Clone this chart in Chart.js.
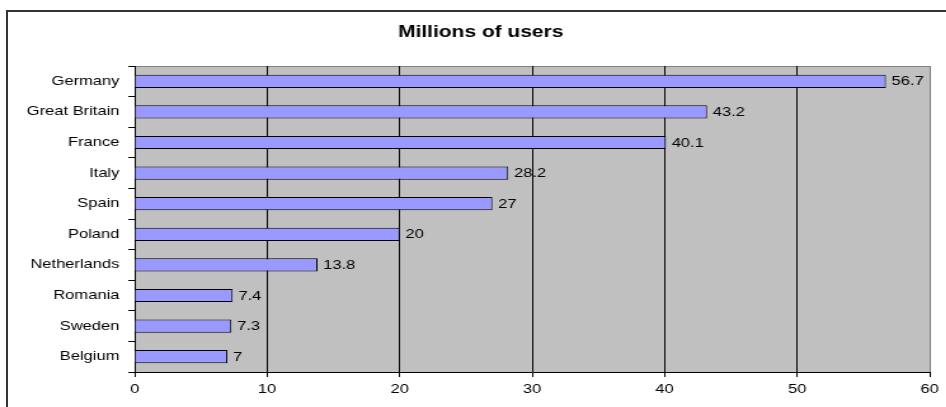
<!DOCTYPE html>
<html>
<head>
<meta charset="utf-8">
<script src="https://cdn.jsdelivr.net/npm/chart.js@4/dist/chart.umd.min.js"></script>
<style>
  html, body { margin: 0; padding: 0; background: #fff; overflow: hidden; }
  #frame {
    position: absolute; left: 6px; top: 10px; width: 980px; height: 440px;
    border-top: 2px solid #333; border-left: 2px solid #333;
  }
  #myChart {
    position: absolute; left: 0; top: 0;
    width: 745px; height: 407px;
    transform: scaleX(1.27); transform-origin: 0 0;
  }
</style>
</head>
<body>
<div id="frame"></div>
<canvas id="myChart" width="745" height="407"></canvas>
<script>
const countries = ['Germany', 'Great Britain', 'France', 'Italy', 'Spain', 'Poland', 'Netherlands', 'Romania', 'Sweden', 'Belgium'];
const users = [56.7, 43.2, 40.1, 28.2, 27, 20, 13.8, 7.4, 7.3, 7];
const xMin = 0;
const xMax = 60;
const xStep = 10;

const FONT = 'Arial, "Liberation Sans", sans-serif';

// grey plot area with a grey top edge
const plotBg = {
  id: 'plotBg',
  // let the long category names use the space left of the axis box
  afterLayout(chart) {
    chart.scales.y.left = 0;
  },
  beforeDraw(chart) {
    const { ctx, chartArea: a } = chart;
    ctx.save();
    ctx.fillStyle = '#c0c0c0';
    ctx.fillRect(a.left, a.top, a.right - a.left, a.bottom - a.top);
    ctx.strokeStyle = '#808080';
    ctx.lineWidth = 1;
    ctx.beginPath();
    ctx.moveTo(a.left, a.top + 0.5);
    ctx.lineTo(a.right, a.top + 0.5);
    ctx.stroke();
    ctx.restore();
  }
};

// value next to each bar
const valueLabels = {
  id: 'valueLabels',
  afterDatasetsDraw(chart) {
    const { ctx } = chart;
    const meta = chart.getDatasetMeta(0);
    ctx.save();
    ctx.font = '13px ' + FONT;
    ctx.fillStyle = '#000';
    ctx.textAlign = 'left';
    ctx.textBaseline = 'middle';
    meta.data.forEach((bar, i) => {
      ctx.fillText(String(users[i]), bar.x + 4.5, bar.y + 0.5);
    });
    ctx.restore();
  }
};

const myChart = new Chart('myChart', {
  type: 'bar',
  data: {
    labels: countries,
    datasets: [{
      label: 'Millions of users',
      data: users,
      backgroundColor: '#9999ff',
      borderColor: '#000',
      borderWidth: 1,
      barPercentage: 0.43,
      categoryPercentage: 1,
    }],
  },
  options: {
    indexAxis: 'y',
    responsive: false,
    animation: false,
    devicePixelRatio: 1,
    layout: { padding: { left: 25, right: 13, top: 0, bottom: 0 } },
    plugins: {
      legend: { display: false },
      tooltip: { enabled: false },
      title: {
        display: true,
        text: 'Millions of users',
        color: '#000',
        font: { family: FONT, size: 16.5, weight: 'bold' },
        padding: { top: 22.7, bottom: 23.5 },
      },
    },
    scales: {
      x: {
        min: xMin,
        max: xMax,
        afterFit(scale) { scale.height = 35; },
        ticks: {
          stepSize: xStep,
          color: '#000',
          padding: 5,
          maxRotation: 0,
          font: { family: FONT, size: 13 },
        },
        grid: {
          color: (c) => (c.tick && c.tick.value === xMax ? '#808080' : '#000'),
          tickColor: '#000',
          tickLength: 5,
          lineWidth: 1,
        },
        border: { color: '#000', width: 1 },
      },
      y: {
        afterFit(scale) { scale.width = 81; },
        ticks: {
          color: '#000',
          padding: 7,
          font: { family: FONT, size: 13 },
        },
        grid: {
          drawOnChartArea: false,
          offset: true,
          color: '#000',
          tickLength: 5,
        },
        border: { color: '#000', width: 1 },
      },
    },
  },
  plugins: [plotBg, valueLabels],
});
</script>
</body>
</html>
